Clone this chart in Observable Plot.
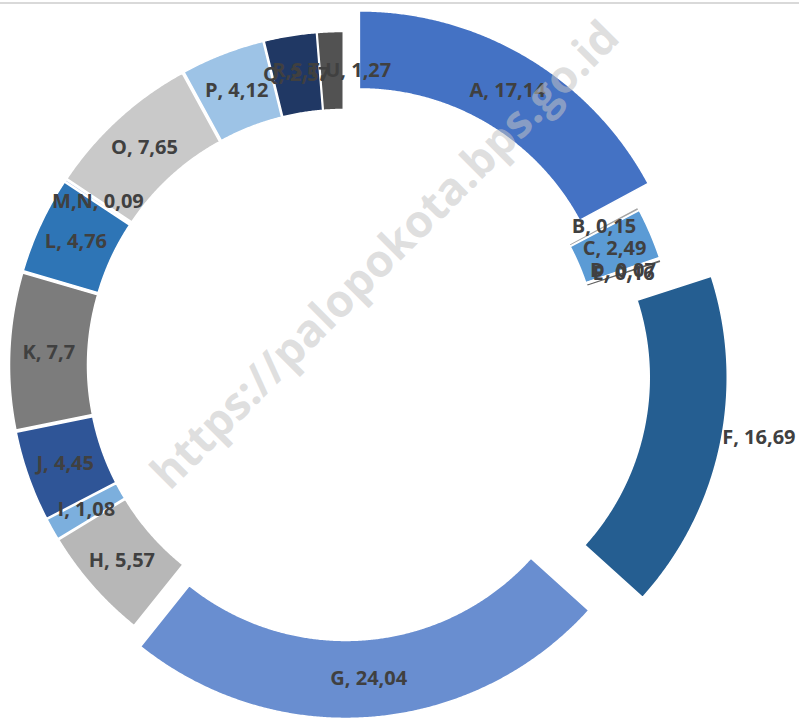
<!DOCTYPE html>
<html><head><meta charset="utf-8">
<script src="https://cdn.jsdelivr.net/npm/d3@7"></script>
<script src="https://cdn.jsdelivr.net/npm/@observablehq/plot@0.6"></script>
<style>
body{margin:0;background:#fff;}
#chart{position:relative;width:799px;height:720px;overflow:hidden;}
#topline{position:absolute;left:0;top:2px;width:799px;height:2px;background:#d9d9d9;}
</style></head><body>
<div id="chart"><div id="topline"></div></div>
<script>
// ---- data ----
const categories = ["A","B","C","D","E","F","G","H","I","J","K","L","M,N","O","P","Q","R,S,T,U"];
const values = [17.14,0.15,2.49,0.07,0.16,16.69,24.04,5.57,1.08,4.45,7.7,4.76,0.09,7.65,4.12,2.57,1.27];
const colors = ["#4472C4","#A5A5A5","#5B9BD5","#264478","#636363","#255E91","#698ED0","#B7B7B7","#7CAFDD","#2F5597","#7C7C7C","#2E75B6","#8FAADC","#C9C9C9","#9DC3E6","#203864","#525252"];
const watermark = "https://palopokota.bps.go.id";

// ---- layout / style ----
const W = 799, H = 720;
const cxPx = 343, cyPx = 365, Rpx = 328;        // donut centre & outer radius in pixels
const inner = 250 / 328;                         // inner radius (fraction of outer)
const baseExplode = 6 / 328;
const explode = {A: 31 / 328, F: 57 / 328, G: 25 / 328};
const labelShift = {F: [77, 0]};

const data = categories.map((c, i) => ({key: c, value: values[i]}));
const arcs = d3.pie().sort(null).value(d => d.value)(data);

const polys = [];
const labels = [];
for (const a of arcs) {
  const k = a.data.key;
  const e = explode[k] ?? baseExplode;
  const mid = (a.startAngle + a.endAngle) / 2;
  const ox = e * Math.sin(mid), oy = e * Math.cos(mid);
  const n = Math.max(2, Math.ceil((a.endAngle - a.startAngle) / 0.005));
  for (let j = 0; j <= n; j++) {
    const t = a.startAngle + (a.endAngle - a.startAngle) * j / n;
    polys.push({key: k, x: ox + Math.sin(t), y: oy + Math.cos(t)});
  }
  for (let j = n; j >= 0; j--) {
    const t = a.startAngle + (a.endAngle - a.startAngle) * j / n;
    polys.push({key: k, x: ox + inner * Math.sin(t), y: oy + inner * Math.cos(t)});
  }
  const rm = (1 + inner) / 2;
  const sh = labelShift[k] || [0, 0];
  labels.push({
    key: k,
    x: ox + rm * Math.sin(mid), y: oy + rm * Math.cos(mid),
    dx: sh[0], dy: sh[1],
    text: `${k}, ${String(a.data.value).replace(".", ",")}`
  });
}

const font = "'Open Sans', Lato, 'DejaVu Sans', sans-serif";
const plot = Plot.plot({
  width: W, height: H,
  margin: 0,
  style: {background: "transparent", overflow: "visible"},
  x: {domain: [-cxPx / Rpx, (W - cxPx) / Rpx], axis: null},
  y: {domain: [-(H - cyPx) / Rpx, cyPx / Rpx], axis: null},
  color: {domain: categories, range: colors},
  marks: [
    Plot.line(polys, {x: "x", y: "y", z: "key", fill: "key", stroke: "white", strokeWidth: 1.5, curve: "linear-closed"}),
    ...labels.map(l => Plot.text([l], {x: "x", y: "y", text: "text", dx: l.dx, dy: l.dy,
      fill: "#404040", fontSize: 20, fontWeight: "bold", fontFamily: font})),
    Plot.text([watermark], {frameAnchor: "middle", text: d => d, dx: 385 - W / 2, dy: 255 - H / 2,
      rotate: -45, fontSize: 45, fontWeight: "bold", fontFamily: font, fill: "#c4c4c4", fillOpacity: 0.55})
  ]
});
plot.style.position = "absolute";
plot.style.left = "0"; plot.style.top = "0";
document.getElementById("chart").appendChild(plot);
</script>
</body></html>
